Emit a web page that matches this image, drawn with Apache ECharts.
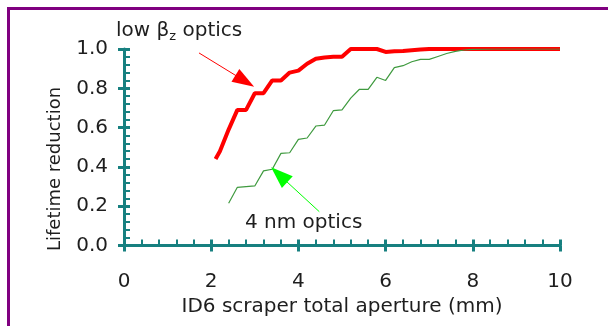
<!DOCTYPE html>
<html>
<head>
<meta charset="utf-8">
<script src="https://cdn.jsdelivr.net/npm/echarts@6/dist/echarts.min.js"></script>
<style>
html,body{margin:0;padding:0;background:#fff;}
#c{width:608px;height:326px;}
</style>
</head>
<body>
<div id="c"></div>
<script>
// Data
const lowBetaX = [2.1, 2.2, 2.4, 2.6, 2.8, 3.0, 3.2, 3.4, 3.6, 3.8, 4.0, 4.2, 4.4, 4.6, 4.8, 5.0, 5.2, 5.4, 5.6, 5.8, 6.0, 6.2, 6.4, 6.6, 6.8, 7.0, 7.5, 8.0, 8.5, 9.0, 9.5, 10.0];
const lowBetaY = [0.44, 0.48, 0.59, 0.69, 0.69, 0.775, 0.775, 0.84, 0.84, 0.88, 0.89, 0.925, 0.95, 0.957, 0.96, 0.96, 1.0, 1.0, 1.0, 1.0, 0.985, 0.988, 0.99, 0.994, 0.997, 1.0, 1.0, 1.0, 1.0, 1.0, 1.0, 1.0];
const nm4X = [2.4, 2.6, 2.8, 3.0, 3.2, 3.4, 3.6, 3.8, 4.0, 4.2, 4.4, 4.6, 4.8, 5.0, 5.2, 5.4, 5.6, 5.8, 6.0, 6.2, 6.4, 6.6, 6.8, 7.0, 7.2, 7.4, 7.6, 7.8, 8.0, 8.5, 9.0, 9.5, 10.0];
const nm4Y = [0.215, 0.296, 0.30, 0.303, 0.38, 0.388, 0.469, 0.472, 0.54, 0.547, 0.608, 0.613, 0.686, 0.69, 0.75, 0.795, 0.795, 0.856, 0.84, 0.905, 0.915, 0.935, 0.947, 0.947, 0.962, 0.977, 0.988, 0.995, 0.998, 1.0, 1.0, 1.0, 1.0];
// Annotation arrows in data coordinates: [start, arrowhead centre]
const lowBetaArrow = [[1.72, 0.98], [2.77, 0.837]];
const nm4Arrow = [[4.48, 0.172], [3.56, 0.36]];
const xTitle = 'ID6 scraper total aperture (mm)';
const yTitle = 'Lifetime reduction';

const FONT = 'DejaVu Sans';
const TEAL = '#178080';
const TXT = '#1e1e1e';

function pairs(xs, ys) { return xs.map((x, i) => [x, ys[i]]); }

const chart = echarts.init(document.getElementById('c'), null, {renderer: 'canvas'});
const baseX = {type: 'value', min: 0, max: 10, interval: 2, position: 'bottom', splitLine: {show: false}};
const baseY = {type: 'value', min: 0, max: 1, interval: 0.2, position: 'left', splitLine: {show: false}};

chart.setOption({
  animation: false,
  backgroundColor: '#fff',
  grid: {left: 124, right: 48, top: 49, bottom: 80.5, containLabel: false},
  xAxis: [
    Object.assign({}, baseX, {
      axisLine: {show: true, onZero: false, lineStyle: {color: TEAL, width: 3}},
      axisTick: {show: true, inside: true, length: 6, lineStyle: {color: TEAL, width: 3}},
      minorTick: {show: true, splitNumber: 5, length: 6, lineStyle: {color: TEAL, width: 2}},
      axisLabel: {margin: 26, color: TXT, fontFamily: FONT, fontSize: 20},
      name: xTitle, nameLocation: 'middle', nameGap: 43,
      nameTextStyle: {color: TXT, fontFamily: FONT, fontSize: 20}
    }),
    Object.assign({}, baseX, {
      axisLine: {show: false},
      axisTick: {show: true, inside: false, length: 6, lineStyle: {color: TEAL, width: 3}},
      axisLabel: {show: false}
    })
  ],
  yAxis: [
    Object.assign({}, baseY, {
      axisLine: {show: true, onZero: false, lineStyle: {color: TEAL, width: 3}},
      axisTick: {show: true, inside: true, length: 6, lineStyle: {color: TEAL, width: 3}},
      minorTick: {show: true, splitNumber: 5, length: 6, lineStyle: {color: TEAL, width: 2}},
      axisLabel: {margin: 16, color: TXT, fontFamily: FONT, fontSize: 20, formatter: v => v.toFixed(1)}
    }),
    Object.assign({}, baseY, {
      axisLine: {show: false},
      axisTick: {show: true, inside: false, length: 6, lineStyle: {color: TEAL, width: 3}},
      axisLabel: {show: false}
    })
  ],
  series: [
    {
      type: 'line', name: 'low βz optics', xAxisIndex: 0, yAxisIndex: 0,
      data: pairs(lowBetaX, lowBetaY), showSymbol: false, symbol: 'none',
      lineStyle: {color: '#ff0000', width: 4}, z: 3,
      markLine: {
        silent: true, symbol: ['none', 'triangle'], symbolSize: [15, 22],
        lineStyle: {color: '#ff0000', width: 1, type: 'solid'},
        itemStyle: {color: '#ff0000'},
        label: {show: false},
        data: [[{coord: lowBetaArrow[0]}, {coord: lowBetaArrow[1]}]]
      }
    },
    {
      type: 'line', name: '4 nm optics', xAxisIndex: 0, yAxisIndex: 0,
      data: pairs(nm4X, nm4Y), showSymbol: false, symbol: 'none',
      lineStyle: {color: '#3f9a3f', width: 1.2}, z: 4,
      markLine: {
        silent: true, symbol: ['none', 'triangle'], symbolSize: [16, 22],
        lineStyle: {color: '#00ff00', width: 1, type: 'solid'},
        itemStyle: {color: '#00ff00'},
        label: {show: false},
        data: [[{coord: nm4Arrow[0]}, {coord: nm4Arrow[1]}]]
      }
    }
  ],
  graphic: [
    {type: 'polyline', silent: true, shape: {points: [[8.5, 326], [8.5, 8.5], [608, 8.5]]},
     style: {stroke: '#800080', lineWidth: 3, fill: null}},
    {type: 'text', left: 116, top: 21, silent: true,
     style: {text: '{a|low β}{s|z}{a| optics}', fill: TXT,
       rich: {a: {fontFamily: FONT, fontSize: 20, fill: TXT, lineHeight: 24},
              s: {fontFamily: FONT, fontSize: 13, fill: TXT, lineHeight: 24, verticalAlign: 'bottom', padding: [7, 0, 0, 0]}}}},
    {type: 'text', left: 245, top: 213, silent: true,
     style: {text: '4 nm optics', fill: TXT, font: '20px "DejaVu Sans"'}},
    {type: 'text', x: 55, y: 169, rotation: Math.PI / 2, silent: true,
     style: {text: yTitle, fill: TXT, font: '18px "DejaVu Sans"', align: 'center', verticalAlign: 'middle'}}
  ]
});
</script>
</body>
</html>
